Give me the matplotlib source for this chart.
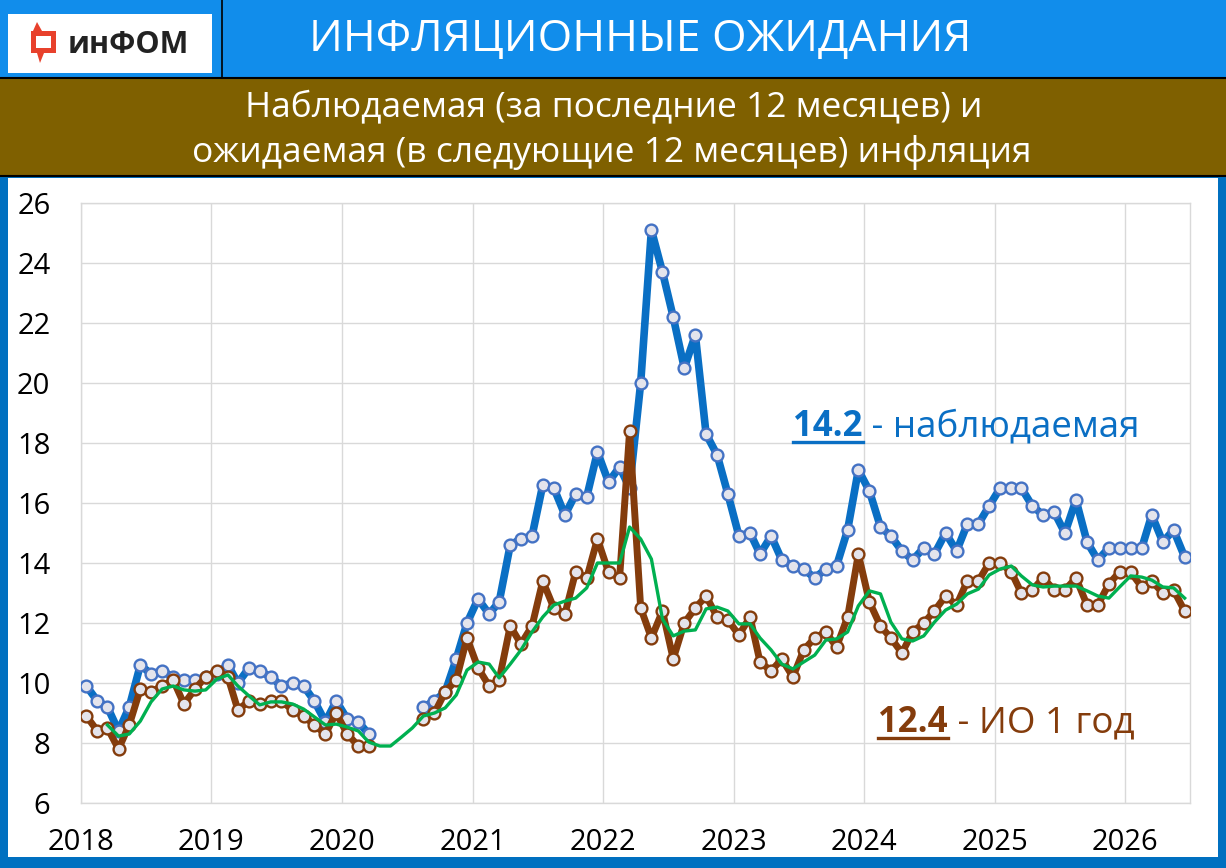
import matplotlib
matplotlib.use("Agg")
import matplotlib.pyplot as plt
from matplotlib.patches import Rectangle, Polygon
from matplotlib.lines import Line2D
import numpy as np
import pandas as pd

plt.rcParams['font.family'] = ['Open Sans', 'DejaVu Sans']

W, H = 1226, 868
nan = np.nan

# monthly data, Jan 2018 .. Jun 2026
start_month = '2018-01-01'
observed = [9.9, 9.4, 9.2, 8.4, 9.2, 10.6, 10.3, 10.4, 10.2, 10.1, 10.1, 10.2,
            10.3, 10.6, 10.0, 10.5, 10.4, 10.2, 9.9, 10.0, 9.9, 9.4, 8.7, 9.4,
            8.8, 8.7, 8.3, nan, nan, nan, nan, 9.2, 9.4, 9.7, 10.8, 12.0,
            12.8, 12.3, 12.7, 14.6, 14.8, 14.9, 16.6, 16.5, 15.6, 16.3, 16.2, 17.7,
            16.7, 17.2, 16.5, 20.0, 25.1, 23.7, 22.2, 20.5, 21.6, 18.3, 17.6, 16.3,
            14.9, 15.0, 14.3, 14.9, 14.1, 13.9, 13.8, 13.5, 13.8, 13.9, 15.1, 17.1,
            16.4, 15.2, 14.9, 14.4, 14.1, 14.5, 14.3, 15.0, 14.4, 15.3, 15.3, 15.9,
            16.5, 16.5, 16.5, 15.9, 15.6, 15.7, 15.0, 16.1, 14.7, 14.1, 14.5, 14.5,
            14.5, 14.5, 15.6, 14.7, 15.1, 14.2]
expected = [8.9, 8.4, 8.5, 7.8, 8.6, 9.8, 9.7, 9.9, 10.1, 9.3, 9.8, 10.2,
            10.4, 10.2, 9.1, 9.4, 9.3, 9.4, 9.4, 9.1, 8.9, 8.6, 8.3, 9.0,
            8.3, 7.9, 7.9, nan, nan, nan, nan, 8.8, 9.0, 9.7, 10.1, 11.5,
            10.5, 9.9, 10.1, 11.9, 11.3, 11.9, 13.4, 12.5, 12.3, 13.7, 13.5, 14.8,
            13.7, 13.5, 18.4, 12.5, 11.5, 12.4, 10.8, 12.0, 12.5, 12.9, 12.2, 12.1,
            11.6, 12.2, 10.7, 10.4, 10.8, 10.2, 11.1, 11.5, 11.7, 11.2, 12.2, 14.3,
            12.7, 11.9, 11.5, 11.0, 11.7, 12.0, 12.4, 12.9, 12.6, 13.4, 13.4, 14.0,
            14.0, 13.7, 13.0, 13.1, 13.5, 13.1, 13.1, 13.5, 12.6, 12.6, 13.3, 13.7,
            13.7, 13.2, 13.4, 13.0, 13.1, 12.4]
expected_avg = [nan, nan, 8.60, 8.23, 8.30, 8.73, 9.37, 9.80, 9.90, 9.77, 9.73, 9.77,
                10.13, 10.27, 9.90, 9.57, 9.27, 9.37, 9.37, 9.30, 9.13, 8.87, 8.60, 8.63,
                8.53, 8.40, 8.03, 7.90, 7.90, 8.20, 8.50, 8.90, 9.00, 9.17, 9.60, 10.43,
                10.70, 10.63, 10.17, 10.63, 11.10, 11.70, 12.20, 12.60, 12.73, 12.83, 13.17, 14.00,
                14.00, 14.00, 15.20, 14.80, 14.13, 12.13, 11.57, 11.73, 11.77, 12.47, 12.53, 12.40,
                11.97, 11.97, 11.50, 11.10, 10.63, 10.47, 10.70, 10.93, 11.43, 11.47, 11.70, 12.57,
                13.07, 12.97, 12.03, 11.47, 11.40, 11.57, 12.03, 12.43, 12.63, 12.97, 13.13, 13.60,
                13.80, 13.90, 13.57, 13.27, 13.20, 13.23, 13.23, 13.23, 13.07, 12.90, 12.83, 13.20,
                13.57, 13.53, 13.43, 13.20, 13.17, 12.83]
year_labels = ['2018', '2019', '2020', '2021', '2022', '2023', '2024', '2025', '2026']
y_ticks = [6, 8, 10, 12, 14, 16, 18, 20, 22, 24, 26]

title = 'ИНФЛЯЦИОННЫЕ ОЖИДАНИЯ'
subtitle_1 = 'Наблюдаемая (за последние 12 месяцев) и'
subtitle_2 = 'ожидаемая (в следующие 12 месяцев) инфляция'
observed_last = '14.2'
expected_last = '12.4'

months = pd.date_range(start_month, periods=len(observed), freq='MS') + pd.Timedelta(days=15)
year_ticks = pd.to_datetime([y + '-01-01' for y in year_labels])

fig = plt.figure(figsize=(W / 100, H / 100), dpi=100, facecolor='#0070C0')


def box(x0, y0, x1, y1, color, z=0):
    fig.add_artist(Rectangle((x0 / W, 1 - y1 / H), (x1 - x0) / W, (y1 - y0) / H,
                             transform=fig.transFigure, facecolor=color,
                             edgecolor='none', zorder=z))


def hline(x0, x1, y, color='black', lw=1.5):
    fig.add_artist(Line2D([x0 / W, x1 / W], [1 - y / H, 1 - y / H],
                          transform=fig.transFigure, color=color, lw=lw))


# header bands
box(0, 0, W, 77, '#118DEB')
box(0, 79, W, 175, '#7F6000')
box(8, 178, 1218, 857, 'white')
hline(0, W, 78)
hline(0, W, 176)
fig.add_artist(Line2D([222 / W, 222 / W], [1 - 78 / H, 1.0],
                      transform=fig.transFigure, color='black', lw=1.2))

# logo
box(8, 14, 212, 73, 'white', z=1)
icon = [(37, 22), (42, 31), (56, 31), (56, 53), (44, 53), (40, 63), (37, 53),
        (31, 53), (31, 31), (33, 31)]
fig.add_artist(Polygon([(x / W, 1 - y / H) for x, y in icon], closed=True,
                       transform=fig.transFigure, facecolor='#E8412C',
                       edgecolor='none', zorder=2))
inner = [(36, 36), (51, 36), (51, 48), (36, 48)]
fig.add_artist(Polygon([(x / W, 1 - y / H) for x, y in inner], closed=True,
                       transform=fig.transFigure, facecolor='white',
                       edgecolor='none', zorder=3))
fig.text(68 / W, 1 - 45 / H, 'инФОМ', fontsize=22, fontweight='bold',
         color='#222222', ha='left', va='center', zorder=3)

fig.text(640 / W, 1 - 40 / H, title, fontsize=32, color='white',
         ha='center', va='center')
fig.text(614 / W, 1 - 107 / H, subtitle_1, fontsize=25.5, color='white',
         ha='center', va='center')
fig.text(612 / W, 1 - 152 / H, subtitle_2, fontsize=25.5, color='white',
         ha='center', va='center')

# chart
ax = fig.add_axes([81 / W, 1 - 803 / H, (1190 - 81) / W, (803 - 203) / H])
ax.set_facecolor('white')
ax.plot(months, observed, color='#0A6FC4', lw=5.5, marker='o', ms=8.5,
        mfc='#E4E4EC', mec='#4472C4', mew=1.7, solid_joinstyle='round',
        solid_capstyle='round', zorder=3)
ax.plot(months, expected, color='#843C0C', lw=5, marker='o', ms=8.5,
        mfc='#E4E4EC', mec='#843C0C', mew=1.7, solid_joinstyle='round',
        solid_capstyle='round', zorder=4)
ax.plot(months, expected_avg, color='#00B050', lw=2.4,
        solid_joinstyle='round', zorder=5)

ax.set_xlim(pd.Timestamp('2018-01-01'), pd.Timestamp('2026-07-01'))
ax.set_ylim(6, 26)
ax.set_xticks(year_ticks)
ax.set_xticklabels(year_labels)
ax.set_yticks(y_ticks)
ax.grid(True, color='#D9D9D9', lw=1)
ax.set_axisbelow(True)
for s in ax.spines.values():
    s.set_color('#D9D9D9')
    s.set_linewidth(1)
ax.tick_params(axis='both', length=0, labelsize=21, colors='black')
ax.tick_params(axis='x', pad=18)
ax.tick_params(axis='y', pad=22)

# end-value labels with underlined number
renderer = fig.canvas.get_renderer()


def end_label(x, y, value, rest, color):
    t1 = fig.text(x / W, 1 - y / H, value, fontsize=25, fontweight='bold',
                  color=color, ha='left', va='baseline')
    bb = t1.get_window_extent(renderer)
    fig.text(bb.x1 / W, 1 - y / H, rest, fontsize=26.5, color=color,
             ha='left', va='baseline')
    uy = 1 - (y + 6) / H
    fig.add_artist(Line2D([bb.x0 / W, bb.x1 / W], [uy, uy],
                          transform=fig.transFigure, color=color, lw=2.4))


end_label(793, 436, observed_last, ' - наблюдаемая', '#0A6FC4')
end_label(878, 732, expected_last, ' - ИО 1 год', '#843C0C')

fig.savefig('out.png', dpi=100, facecolor=fig.get_facecolor())
